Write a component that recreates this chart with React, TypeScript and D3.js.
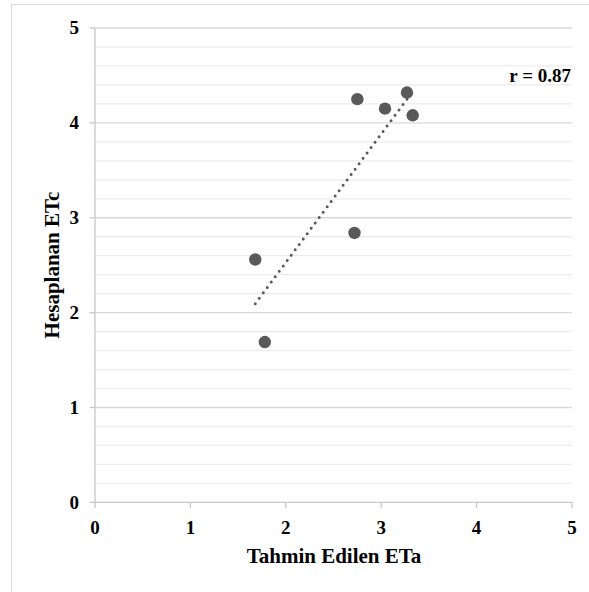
import React from "react";
import * as d3 from "d3";

const xValues = [1.68, 1.78, 2.72, 2.75, 3.04, 3.27, 3.33];
const yValues = [2.56, 1.69, 2.84, 4.25, 4.15, 4.32, 4.08];
const majorTicks = [0, 1, 2, 3, 4, 5];
const rLabel = "r = 0.87";
const xTitle = "Tahmin Edilen ETa";
const yTitle = "Hesaplanan ETc";

const W = 589;
const H = 592;
const FONT = "'Liberation Serif', 'Times New Roman', serif";

export default function App() {
  const x = d3.scaleLinear().domain([0, 5]).range([95, 572]);
  const y = d3.scaleLinear().domain([0, 5]).range([502.4, 28]);
  const minor = d3.range(0, 5.0001, 0.2).filter((v) => Math.abs(v - Math.round(v)) > 1e-6);

  const mx = d3.mean(xValues)!;
  const my = d3.mean(yValues)!;
  let sxy = 0, sxx = 0;
  xValues.forEach((v, i) => {
    sxy += (v - mx) * (yValues[i] - my);
    sxx += (v - mx) * (v - mx);
  });
  const slope = sxy / sxx;
  const intercept = my - slope * mx;
  const x0 = d3.min(xValues)!;
  const x1 = d3.max(xValues)!;
  const line = d3.line<number>().x((v) => x(v)).y((v) => y(intercept + slope * v));

  return (
    <svg width={W} height={H} style={{ position: "absolute", left: 0, top: 0, background: "#fff" }}>
      <rect x={11.5} y={4.5} width={W} height={H} fill="#fff" stroke="#d9d9d9" strokeWidth={1} />
      {minor.map((v) => (
        <line key={"m" + v} x1={x(0)} x2={x(5)} y1={y(v)} y2={y(v)} stroke="#ececec" strokeWidth={1.3} />
      ))}
      {majorTicks.slice(1).map((v) => (
        <line key={"g" + v} x1={x(0)} x2={x(5)} y1={y(v)} y2={y(v)} stroke="#d9d9d9" strokeWidth={1.3} />
      ))}
      {/* y axis */}
      <line x1={x(0)} x2={x(0)} y1={y(5)} y2={y(0)} stroke="#c8c8c8" strokeWidth={1.3} />
      {majorTicks.map((v) => (
        <line key={"yt" + v} x1={x(0) - 5.5} x2={x(0)} y1={y(v)} y2={y(v)} stroke="#c8c8c8" strokeWidth={1.3} />
      ))}
      {/* x axis */}
      <line x1={x(0)} x2={x(5)} y1={y(0)} y2={y(0)} stroke="#c8c8c8" strokeWidth={1.3} />
      {majorTicks.map((v) => (
        <line key={"xt" + v} x1={x(v)} x2={x(v)} y1={y(0)} y2={y(0) + 5.5} stroke="#c8c8c8" strokeWidth={1.3} />
      ))}
      {majorTicks.map((v) => (
        <text key={"yl" + v} x={79} y={y(v) + 6.2} textAnchor="end" fontFamily={FONT} fontWeight="bold" fontSize={19} fill="#000">
          {v}
        </text>
      ))}
      {majorTicks.map((v) => (
        <text key={"xl" + v} x={x(v)} y={533.5} textAnchor="middle" fontFamily={FONT} fontWeight="bold" fontSize={19} fill="#000">
          {v}
        </text>
      ))}
      <path d={line([x0, x1]) || ""} fill="none" stroke="#595959" strokeWidth={3} strokeDasharray="0 6.7" strokeLinecap="round" />
      {xValues.map((v, i) => (
        <circle key={"p" + i} cx={x(v)} cy={y(yValues[i])} r={6.2} fill="#595959" />
      ))}
      <text x={571} y={82} textAnchor="end" fontFamily={FONT} fontWeight="bold" fontSize={19} fill="#000">
        {rLabel}
      </text>
      <text x={334} y={563} textAnchor="middle" fontFamily={FONT} fontWeight="bold" fontSize={21} fill="#000">
        {xTitle}
      </text>
      <text transform={`translate(59,265) rotate(-90)`} textAnchor="middle" fontFamily={FONT} fontWeight="bold" fontSize={21} fill="#000">
        {yTitle}
      </text>
    </svg>
  );
}
